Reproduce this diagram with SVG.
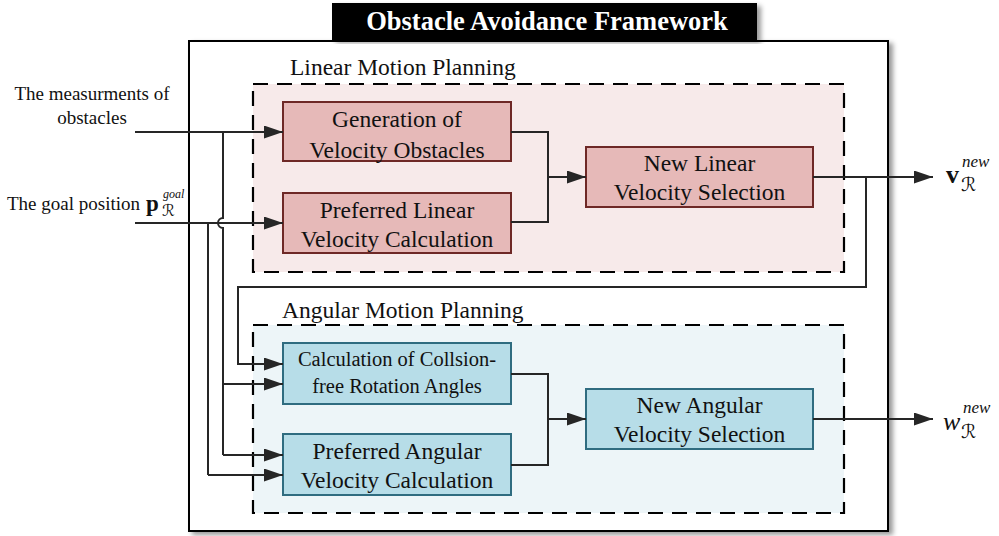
<svg xmlns="http://www.w3.org/2000/svg" width="999" height="536" viewBox="0 0 999 536">
<defs>
<filter id="sh" x="-5%" y="-5%" width="115%" height="115%">
<feDropShadow dx="4" dy="3" stdDeviation="2.5" flood-color="#000" flood-opacity="0.4"/>
</filter>
<marker id="ah" markerUnits="userSpaceOnUse" markerWidth="20" markerHeight="14" refX="19" refY="6.5" orient="auto">
<path d="M0,0 L19,6.5 L0,13 Z" fill="#262626"/>
</marker>
</defs>
<style>
.t{font-family:"Liberation Serif","Times New Roman",serif;fill:#111}
.bx{font-size:23.5px;text-anchor:middle}
.lin{fill:#e6b9b8;stroke:#6e2826;stroke-width:2}
.ang{fill:#b7dde8;stroke:#2f6c80;stroke-width:2}
.reg{stroke:#000;stroke-width:2.2;stroke-dasharray:15 9}
.c{fill:none;stroke:#262626;stroke-width:2}
.ca{fill:none;stroke:#262626;stroke-width:2;marker-end:url(#ah)}
.cal{font-family:"DejaVu Serif","DejaVu Sans",serif;font-style:italic}
</style>

<g id="frame">
<rect x="189" y="41" width="699" height="490" fill="#fff" stroke="#000" stroke-width="2" filter="url(#sh)"/>
</g>
<g id="title">
<rect x="332" y="3" width="425" height="37" fill="#000" filter="url(#sh)"/>
<text class="t" x="547" y="30" font-size="26.5" font-weight="bold" text-anchor="middle" style="fill:#fff">Obstacle Avoidance Framework</text>
</g>

<g id="linear-region">
<rect class="reg" x="253" y="84" width="591" height="188" fill="#f7eaea"/>
<text class="t" x="290" y="75" font-size="23.5">Linear Motion Planning</text>
</g>
<g id="angular-region">
<rect class="reg" x="253" y="325" width="591" height="188" fill="#edf5f8"/>
<text class="t" x="282" y="318" font-size="23.5">Angular Motion Planning</text>
</g>

<g id="gen-vo">
<rect class="lin" x="283" y="102" width="228" height="59"/>
<text class="t bx" x="397" y="126.5">Generation of</text>
<text class="t bx" x="397" y="157.5">Velocity Obstacles</text>
</g>
<g id="pref-linear">
<rect class="lin" x="283" y="193" width="228" height="60"/>
<text class="t bx" x="397" y="217.5">Preferred Linear</text>
<text class="t bx" x="397" y="247">Velocity Calculation</text>
</g>
<g id="new-linear">
<rect class="lin" x="586" y="147" width="227" height="60"/>
<text class="t bx" x="699.5" y="171">New Linear</text>
<text class="t bx" x="699.5" y="200">Velocity Selection</text>
</g>

<g id="calc-rot">
<rect class="ang" x="283" y="343" width="228" height="61"/>
<text class="t" x="397" y="366" font-size="20.5" text-anchor="middle">Calculation of Collsion-</text>
<text class="t" x="397" y="393" font-size="20.5" text-anchor="middle">free Rotation Angles</text>
</g>
<g id="pref-angular">
<rect class="ang" x="283" y="434" width="228" height="61"/>
<text class="t bx" x="397" y="459">Preferred Angular</text>
<text class="t bx" x="397" y="488">Velocity Calculation</text>
</g>
<g id="new-angular">
<rect class="ang" x="586" y="389" width="227" height="60"/>
<text class="t bx" x="699.5" y="413">New Angular</text>
<text class="t bx" x="699.5" y="442">Velocity Selection</text>
</g>

<g id="inputs">
<text class="t" x="92" y="100" font-size="19" text-anchor="middle">The measurments of</text>
<text class="t" x="92" y="124" font-size="19" text-anchor="middle">obstacles</text>
<text class="t" x="7" y="210" font-size="19">The goal position</text>
<text class="t" x="146" y="211" font-size="23" font-weight="bold">p</text>
<text class="t" x="163" y="198" font-size="12" font-style="italic">goal</text>
<text class="t cal" x="162" y="216" font-size="16">ℛ</text>
</g>

<g id="outputs">
<text class="t" x="946" y="183" font-size="26" font-weight="bold">v</text>
<text class="t" x="962" y="167" font-size="17" font-style="italic">new</text>
<text class="t cal" x="961" y="191" font-size="19">ℛ</text>
<text class="t" x="943" y="430" font-size="26" font-style="italic">w</text>
<text class="t" x="963" y="413" font-size="17" font-style="italic">new</text>
<text class="t cal" x="961" y="438" font-size="19">ℛ</text>
</g>

<g id="connectors">
<path class="ca" d="M135,132 H283"/>
<path class="ca" d="M135,223 H283"/>
<path class="c" d="M223,132 V218 A5,5 0 0 0 223,228 V455"/>
<path class="ca" d="M223,384 H283"/>
<path class="ca" d="M223,455 H283"/>
<path class="c" d="M208,223 V475"/>
<path class="ca" d="M208,475 H283"/>
<path class="c" d="M511,132 H548 V222 H511"/>
<path class="ca" d="M548,177 H586"/>
<path class="c" d="M511,374 H548 V465 H511"/>
<path class="ca" d="M548,419 H586"/>
<path class="ca" d="M813,177 H933"/>
<path class="ca" d="M866,177 V287 H238 V364 H283"/>
<path class="ca" d="M813,419 H933"/>
</g>
</svg>
